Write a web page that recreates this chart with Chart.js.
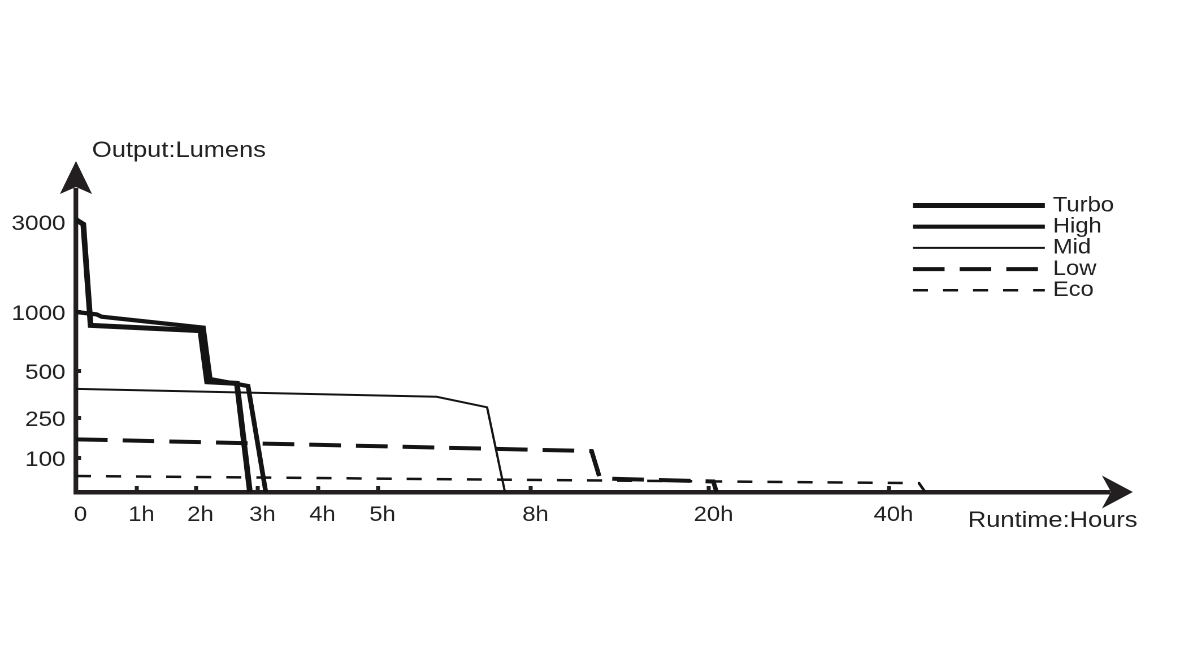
<!DOCTYPE html>
<html>
<head>
<meta charset="utf-8">
<script src="https://cdn.jsdelivr.net/npm/chart.js@4.4.1/dist/chart.umd.min.js"></script>
<style>
html,body{margin:0;padding:0;background:#fff;overflow:hidden;width:1180px;height:660px;}
#wrap{width:1044px;height:660px;transform:scaleX(1.130268);transform-origin:0 0;}
</style>
</head>
<body>
<div id="wrap"><canvas id="c"></canvas></div>
<script>
// ---------------- data (hours / lumens) ----------------
const seriesNames = ['Turbo', 'High', 'Mid', 'Low', 'Eco'];

const turboHours  = [0, 0.12, 0.24, 2.07, 2.18, 2.66, 2.87];
const turboLumens = [3050, 2950, 887, 842, 443, 434, 0];

const highHours  = [0, 0.34, 0.42, 2.12, 2.23, 2.84, 3.13];
const highLumens = [1000, 980, 960, 867, 457, 420, 0];

const midHours  = [0, 6.15, 7.14, 7.49];
const midLumens = [405, 363, 307, 0];

const lowHours  = [0, 12.09, 12.65, 20.48, 20.85];
const lowLumens = [170, 126, 40, 31, 0];

const ecoHours  = [0, 43.4, 44.1];
const ecoLumens = [47, 26, 0];

const xTickValues = [0, 1, 2, 3, 4, 5, 8, 20, 40];
const xTickLabels = ['0', '1h', '2h', '3h', '4h', '5h', '8h', '20h', '40h'];
const yTickValues = [100, 250, 500, 1000, 3000];
const yTickLabels = ['100', '250', '500', '1000', '3000'];

const yAxisTitle = 'Output:Lumens';
const xAxisTitle = 'Runtime:Hours';

// ---------------- piecewise-linear scale ----------------
class PiecewiseScale extends Chart.LinearScale {
  static id = 'piecewise';
  buildTicks() {
    return this.options.tickValues.map(v => ({ value: v }));
  }
  _frac(v) {
    const b = this.options.breaks, s = this.options.spans;
    const total = s.reduce((a, c) => a + c, 0);
    let acc = 0;
    for (let i = 0; i < s.length; i++) {
      if (v <= b[i + 1] || i === s.length - 1) {
        return (acc + s[i] * (v - b[i]) / (b[i + 1] - b[i])) / total;
      }
      acc += s[i];
    }
    return 0;
  }
  getPixelForValue(v) {
    if (v === null || v === undefined || isNaN(v)) return NaN;
    return this.getPixelForDecimal(this._frac(v));
  }
  getValueForPixel(p) {
    const d = this.getDecimalForPixel(p);
    const b = this.options.breaks, s = this.options.spans;
    const total = s.reduce((a, c) => a + c, 0);
    let acc = 0;
    for (let i = 0; i < s.length; i++) {
      const f0 = acc / total, f1 = (acc + s[i]) / total;
      if (d <= f1 || i === s.length - 1) {
        return b[i] + (d - f0) / (f1 - f0) * (b[i + 1] - b[i]);
      }
      acc += s[i];
    }
    return 0;
  }
}
Chart.register(PiecewiseScale);

const axisColor = '#231f20';
const textColor = '#222222';
const lineColor = '#141414';
Chart.defaults.font.family = "'Liberation Sans', Arial, Helvetica, sans-serif";

const pts = (xs, ys) => xs.map((x, i) => ({ x: x, y: ys[i] }));

const datasets = [
  { label: seriesNames[0], data: pts(turboHours, turboLumens), borderWidth: 5,   borderDash: [] },
  { label: seriesNames[1], data: pts(highHours, highLumens),   borderWidth: 4.2, borderDash: [] },
  { label: seriesNames[2], data: pts(midHours, midLumens),     borderWidth: 2,   borderDash: [] },
  { label: seriesNames[3], data: pts(lowHours, lowLumens),     borderWidth: 4,   borderDash: [28, 13.3] },
  { label: seriesNames[4], data: pts(ecoHours, ecoLumens),     borderWidth: 2.5, borderDash: [13.3, 13.3] }
].map(d => Object.assign(d, {
  borderColor: lineColor, backgroundColor: lineColor, pointRadius: 0,
  fill: false, tension: 0, borderJoinStyle: 'miter'
}));

// ---------------- decorations: arrows, axis titles, legend ----------------
const decor = {
  id: 'decor',
  afterDraw(chart) {
    const { ctx, chartArea: a } = chart;
    const ax = chart.scales.y.right;
    const ay = chart.scales.x.top;
    ctx.save();
    ctx.fillStyle = axisColor;
    // y arrow
    ctx.beginPath();
    ctx.moveTo(ax, a.top - 29);
    ctx.lineTo(ax + 14.2, a.top + 4);
    ctx.lineTo(ax, a.top - 3);
    ctx.lineTo(ax - 14.2, a.top + 4);
    ctx.closePath();
    ctx.fill();
    // x arrow
    ctx.beginPath();
    ctx.moveTo(a.right + 20.3, ay);
    ctx.lineTo(a.right - 7.1, ay - 16.5);
    ctx.lineTo(a.right + 1, ay);
    ctx.lineTo(a.right - 7.1, ay + 16.5);
    ctx.closePath();
    ctx.fill();
    // axis titles
    ctx.fillStyle = textColor;
    ctx.font = "22.5px 'Liberation Sans', Arial, sans-serif";
    ctx.textAlign = 'left';
    ctx.textBaseline = 'alphabetic';
    ctx.fillText(yAxisTitle, a.left + 14.2, a.top - 33);
    ctx.fillText(xAxisTitle, a.right - 125.7, ay + 35);
    // legend
    ctx.font = "21px 'Liberation Sans', Arial, sans-serif";
    ctx.textBaseline = 'middle';
    chart.data.datasets.forEach((ds, i) => {
      const y = a.top + 15.5 + 21.2 * i;
      ctx.save();
      ctx.strokeStyle = ds.borderColor;
      ctx.lineWidth = ds.borderWidth;
      ctx.setLineDash(ds.borderDash || []);
      ctx.beginPath();
      ctx.moveTo(a.right - 174.3, y);
      ctx.lineTo(a.right - 57.6, y);
      ctx.stroke();
      ctx.restore();
      ctx.fillText(ds.label, a.right - 50.5, y);
    });
    ctx.restore();
  }
};

new Chart(document.getElementById('c'), {
  type: 'line',
  data: { datasets: datasets },
  plugins: [decor],
  options: {
    responsive: true,
    maintainAspectRatio: false,
    devicePixelRatio: 2,
    animation: false,
    events: [],
    layout: { padding: { top: 190, right: 62, bottom: 0, left: 0 } },
    plugins: { legend: { display: false }, tooltip: { enabled: false }, title: { display: false } },
    scales: {
      x: {
        type: 'piecewise', position: 'bottom', min: 0, max: 65,
        breaks: [0, 1, 2, 3, 4, 5, 8, 20, 40, 65],
        spans: [61, 59, 62, 60, 60, 153, 178, 180, 221],
        tickValues: xTickValues,
        grid: { display: true, drawOnChartArea: false, drawTicks: true, tickLength: -6, tickWidth: 3.5, tickColor: axisColor },
        border: { display: true, width: 4.5, color: axisColor },
        ticks: {
          autoSkip: false, maxRotation: 0, minRotation: 0, padding: 16.6, labelOffset: 4,
          color: textColor, font: { size: 21 },
          callback: (v, i) => xTickLabels[i]
        },
        afterFit: s => { s.height = 168; }
      },
      y: {
        type: 'piecewise', position: 'left', min: 0, max: 3700,
        breaks: [0, 100, 250, 500, 1000, 3000, 3700],
        spans: [34, 40, 47, 59, 90, 32],
        tickValues: yTickValues,
        grid: { display: true, drawOnChartArea: false, drawTicks: true, tickLength: -4.5, tickWidth: 4, tickColor: axisColor },
        border: { display: true, width: 4.2, color: axisColor },
        ticks: {
          autoSkip: false, padding: 13.7, labelOffset: 2, color: textColor, font: { size: 21.5 },
          callback: (v, i) => yTickLabels[i]
        },
        afterFit: s => { s.width = 67.2; }
      }
    }
  }
});
</script>
</body>
</html>
